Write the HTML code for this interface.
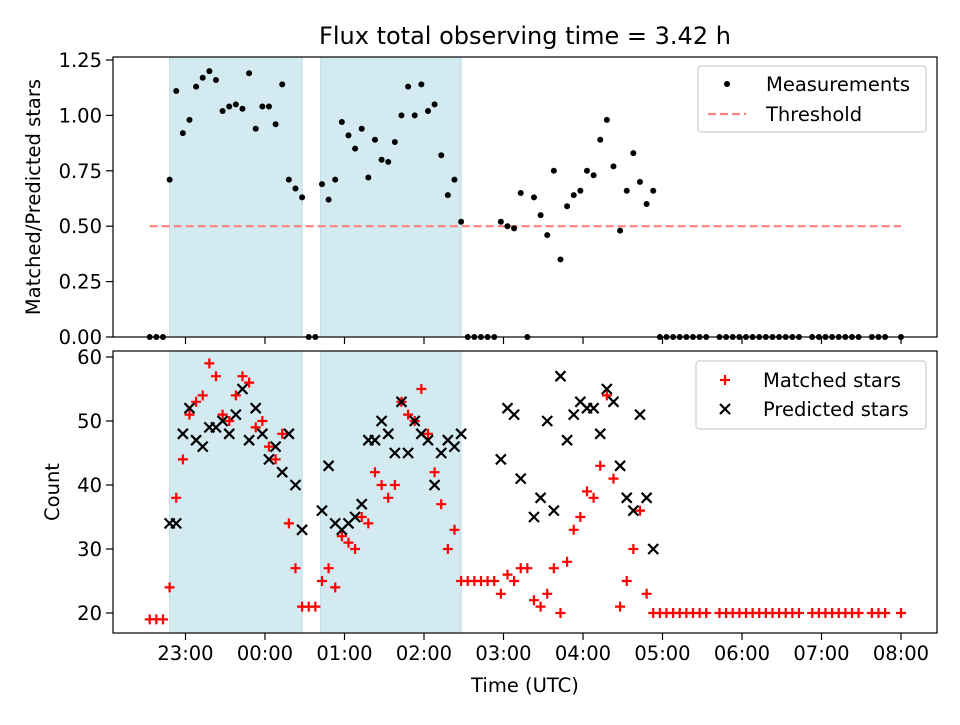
<!DOCTYPE html>
<html><head><meta charset="utf-8"><style>
html,body{margin:0;padding:0;background:#fff;}
svg text{font-family:"DejaVu Sans","Liberation Sans",sans-serif;fill:#000;}
</style></head><body>
<svg id="fig" width="960" height="720" viewBox="0 0 960 720" xmlns="http://www.w3.org/2000/svg">
<rect width="960" height="720" fill="#fff"/>
<text x="525" y="44" font-size="24" text-anchor="middle">Flux total observing time = 3.42 h</text>
<g id="top"></g>
<g id="bot"></g>
<text transform="translate(40,197) rotate(-90)" font-size="19.5" text-anchor="middle">Matched/Predicted stars</text>
<text transform="translate(59,492) rotate(-90)" font-size="19.5" text-anchor="middle">Count</text>
<text x="525" y="692" font-size="19.5" text-anchor="middle">Time (UTC)</text>
</svg>
<script>
// times in minutes from midnight (negative = previous day)
const times = [-87,-82,-77,-72,-67,-62,-57,-52,-47,-42,-37,-32,-27,-22,-17,-12,-7,-2,3,8,13,18,23,28,33,38,43,48,53,58,63,68,73,78,83,88,93,98,103,108,113,118,123,128,133,138,143,148,153,158,163,168,173,178,183,188,193,198,203,208,213,218,223,228,233,238,243,248,253,258,263,268,273,278,283,288,293,298,303,308,313,318,323,328,333,343,348,353,358,363,368,373,378,383,388,393,398,403,413,418,423,428,433,438,443,448,458,463,468,480];
const ratio = [0,0,0,0.71,1.11,0.92,0.98,1.13,1.17,1.20,1.16,1.02,1.04,1.05,1.03,1.19,0.94,1.04,1.04,0.96,1.14,0.71,0.67,0.63,0,0,0.69,0.62,0.71,0.97,0.91,0.85,0.94,0.72,0.89,0.80,0.79,0.88,1.00,1.13,1.00,1.14,1.02,1.05,0.82,0.64,0.71,0.52,0,0,0,0,0,0.52,0.50,0.49,0.65,0,0.63,0.55,0.46,0.75,0.35,0.59,0.64,0.66,0.75,0.73,0.89,0.98,0.77,0.48,0.66,0.83,0.70,0.60,0.66,0,0,0,0,0,0,0,0,0,0,0,0,0,0,0,0,0,0,0,0,0,0,0,0,0,0,0,0,0,0,0,0,0,0];
const matched = [19,19,19,24,38,44,51,53,54,59,57,51,50,54,57,56,49,50,46,44,48,34,27,21,21,21,25,27,24,32,31,30,35,34,42,40,38,40,53,51,50,55,48,42,37,30,33,25,25,25,25,25,25,23,26,25,27,27,22,21,23,27,20,28,33,35,39,38,43,54,41,21,25,30,36,23,20,20,20,20,20,20,20,20,20,20,20,20,20,20,20,20,20,20,20,20,20,20,20,20,20,20,20,20,20,20,20,20,20,20];
const predicted = [null,null,null,34,34,48,52,47,46,49,49,50,48,51,55,47,52,48,44,46,42,48,40,33,null,null,36,43,34,33,34,35,37,47,47,50,48,45,53,45,50,48,47,40,45,47,46,48,null,null,null,null,null,44,52,51,41,null,35,38,50,36,57,47,51,53,52,52,48,55,53,43,38,36,51,38,30];
const shadeStart = [-72, 42];
const shadeEnd = [28, 148];
const threshold = 0.5;
const thresholdRange = [-87, 480];
const xTickMinutes = [-60,0,60,120,180,240,300,360,420,480];
const xTickLabels = ["23:00","00:00","01:00","02:00","03:00","04:00","05:00","06:00","07:00","08:00"];
const topTicks = [0,0.25,0.5,0.75,1.0,1.25];
const topTickLabels = ["0.00","0.25","0.50","0.75","1.00","1.25"];
const botTicks = [20,30,40,50,60];
const botTickLabels = ["20","30","40","50","60"];

const NS="http://www.w3.org/2000/svg";
const L=113,R=937,FS=19.5;
const X=m=>265+m*1.325;
const YT=v=>337-v*221.6;
const YB=c=>357+(60-c)*6.4;
function mk(p,tag,attrs){const e=document.createElementNS(NS,tag);for(const k in attrs)e.setAttribute(k,attrs[k]);p.appendChild(e);return e;}

function panel(g,top,bot,ticks,labels,yf,showX){
  for(let i=0;i<shadeStart.length;i++){
    const r=mk(g,'rect',{x:X(shadeStart[i]),y:top,width:X(shadeEnd[i])-X(shadeStart[i]),height:bot-top,fill:'#d4eaf1',stroke:'#bcdce6','stroke-width':1});
    
    
  }
  ticks.forEach((v,i)=>{
    const y=yf(v);
    const t=mk(g,'line',{x1:L-7,x2:L,y1:y,y2:y,stroke:'#000','stroke-width':1.2});
    
    
    const tx=mk(g,'text',{x:L-11,y:y+7,'font-size':FS,'text-anchor':'end'});tx.textContent=labels[i];
    
    
  });
  xTickMinutes.forEach((m,i)=>{
    const x=X(m);
    const t=mk(g,'line',{x1:x,x2:x,y1:bot,y2:bot+7,stroke:'#000','stroke-width':1.2});
    
    
    if(showX){const tx=mk(g,'text',{x:x,y:bot+27,'font-size':FS,'text-anchor':'middle'});tx.textContent=xTickLabels[i];
      
      }
  });
}
function frame(g,top,bot){const f=mk(g,'rect',{x:L,y:top,width:R-L,height:bot-top,fill:'none',stroke:'#000','stroke-width':1.2});
  
  }
function plus(g,x,y){return mk(g,'path',{d:`M${x-5},${y}H${x+5}M${x},${y-5}V${y+5}`,stroke:'#ff0000','stroke-width':2.2,fill:'none'});}
function cross(g,x,y){return mk(g,'path',{d:`M${x-5},${y-5}L${x+5},${y+5}M${x-5},${y+5}L${x+5},${y-5}`,stroke:'#000','stroke-width':2.2,fill:'none'});}

// top panel
const gt=document.getElementById('top');
panel(gt,57,337,topTicks,topTickLabels,YT,false);
const th=mk(gt,'line',{x1:X(thresholdRange[0]),x2:X(thresholdRange[1]),y1:YT(threshold),y2:YT(threshold),stroke:'#ff8080','stroke-width':2.2,'stroke-dasharray':'8,4'});


times.forEach((m,i)=>{const c=mk(gt,'circle',{cx:X(m),cy:YT(ratio[i]),r:3,fill:'#000'});
  
  });
frame(gt,57,337);
// top legend
const lg1=mk(gt,'g',{});


mk(lg1,'rect',{x:698,y:66,width:228,height:66,rx:3,fill:'#fff',stroke:'#ccc','stroke-width':1.2});
mk(lg1,'circle',{cx:727,cy:84,r:3,fill:'#000'});
let t1=mk(lg1,'text',{x:766,y:91,'font-size':FS});t1.textContent='Measurements';
mk(lg1,'line',{x1:708,x2:746,y1:114,y2:114,stroke:'#ff8080','stroke-width':2.2,'stroke-dasharray':'8,4'});
let t2=mk(lg1,'text',{x:766,y:121,'font-size':FS});t2.textContent='Threshold';

// bottom panel
const gb=document.getElementById('bot');
panel(gb,351,633,botTicks,botTickLabels,YB,true);
times.forEach((m,i)=>{const p=plus(gb,X(m),YB(matched[i]));
  
  });
times.forEach((m,i)=>{if(predicted[i]==null||predicted[i]===undefined)return;const c=cross(gb,X(m),YB(predicted[i]));
  
  });
frame(gb,351,633);
const lg2=mk(gb,'g',{});


mk(lg2,'rect',{x:696,y:361,width:230,height:68,rx:3,fill:'#fff',stroke:'#ccc','stroke-width':1.2});
plus(lg2,725,380);
let t3=mk(lg2,'text',{x:763,y:387,'font-size':FS});t3.textContent='Matched stars';
cross(lg2,725,409);
let t4=mk(lg2,'text',{x:763,y:416,'font-size':FS});t4.textContent='Predicted stars';
</script>
</body></html>
